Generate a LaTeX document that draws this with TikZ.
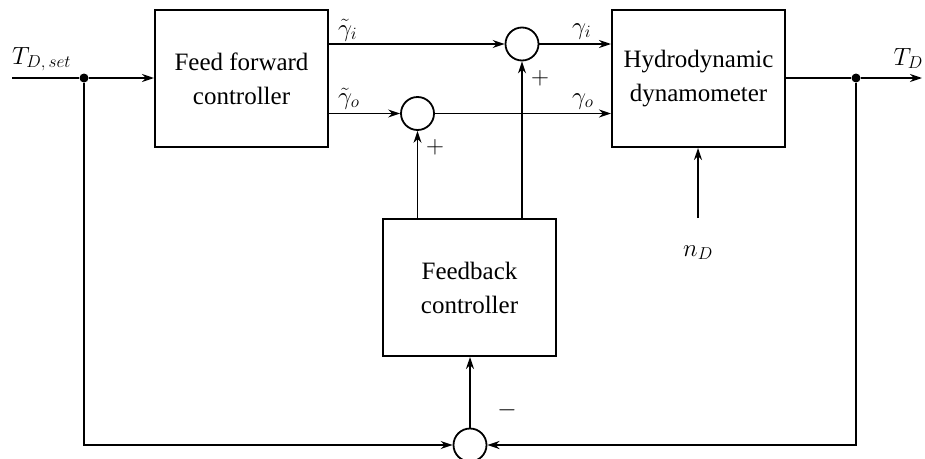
\documentclass[tikz,border=0pt]{standalone}
\usepackage{fontspec}
\setmainfont{Liberation Serif}
\usetikzlibrary{arrows.meta}
\begin{document}
\begin{tikzpicture}[x=1pt,y=-1pt,
  blockbox/.style={draw,line width=2pt,minimum width=173pt,minimum height=137pt,inner sep=0pt,align=center,font=\fontsize{25}{34}\selectfont},
  sumnode/.style={draw,circle,line width=1.8pt,minimum size=33pt,inner sep=0pt},
  conn/.style={line width=1.8pt,-{Stealth[length=12pt,width=8pt]}},
  wire/.style={line width=1.8pt},
  dotnode/.style={circle,fill,inner sep=0pt,minimum size=9pt},
  lbl/.style={font=\fontsize{23}{26}\selectfont,inner sep=0pt},
  biglbl/.style={font=\fontsize{27}{30}\selectfont,inner sep=0pt}]
\useasboundingbox (0,0) rectangle (925,458);
\fill[white] (0,0) rectangle (925,458);
% blocks
\node[blockbox] (ff) at (241.5,78.5) {Feed forward\\controller};
\node[blockbox] (hd) at (698.5,78.5) {Hydrodynamic\\dynamometer};
\node[blockbox] (fb) at (469.5,287.5) {Feedback\\controller};
% summing junctions
\node[sumnode] (s1) at (522,44) {};
\node[sumnode] (s2) at (417.5,113.5) {};
\node[sumnode] (s3) at (470,445) {};
% points
\coordinate (in) at (12,78);
\node[dotnode] (d1) at (84,78) {};
\node[dotnode] (d2) at (856,78) {};
\coordinate (out) at (922,78);
\coordinate (nd) at (698,218);
% connectors
\draw[wire] (in) -- (d1);
\draw[conn] (d1) -- (d1 -| ff.west);
\draw[conn] (ff.east |- s1) -- (s1.west);
\draw[conn] (ff.east |- s2) -- (s2.west);
\draw[conn] (s1.east) -- (s1 -| hd.west);
\draw[conn] (s2.east) -- (s2 -| hd.west);
\draw[wire] (hd.east |- d2) -- (d2);
\draw[conn] (d2) -- (out);
\draw[conn] (nd) -- (nd |- hd.south);
\draw[conn] (fb.north -| s2) -- (s2.south);
\draw[conn] (fb.north -| s1) -- (s1.south);
\draw[conn] (s3.north) -- (fb.south -| s3);
\draw[conn] (d1) -- (d1 |- s3) -- (s3.west);
\draw[conn,line width=2.4pt] (d2) -- (d2 |- s3) -- (s3.east);
% labels
\node[biglbl,anchor=base west] (lset) at (12,64) {$T_{D,\,set}$};
\node[biglbl,anchor=base east] (lout) at (923,65) {$T_D$};
\node[lbl,anchor=base west] (lgti) at (338,36) {$\tilde{\gamma}_i$};
\node[lbl,anchor=base west] (lgto) at (338,104) {$\tilde{\gamma}_o$};
\node[lbl,anchor=base west] (lgi) at (572,34) {$\gamma_i$};
\node[lbl,anchor=base west] (lgo) at (572,104) {$\gamma_o$};
\node[lbl,anchor=base west] (lnd) at (683,256) {$n_D$};
\node[lbl] (p1) at (540,78) {$+$};
\node[lbl] (p2) at (435,147) {$+$};
\node[lbl] (m1) at (507,410) {$-$};
\end{tikzpicture}
\end{document}
